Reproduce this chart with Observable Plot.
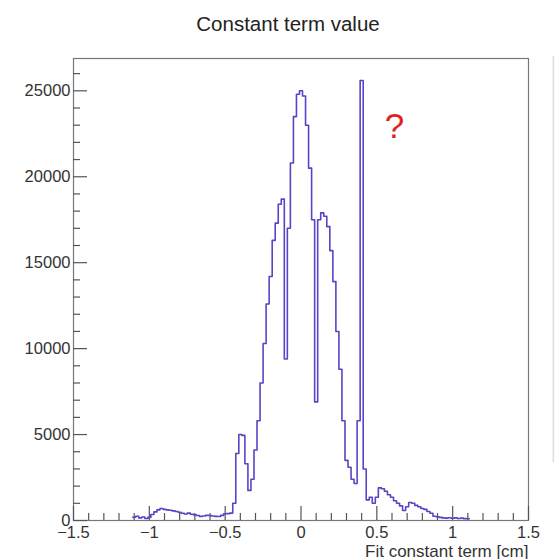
<!DOCTYPE html>
<html>
<head>
<meta charset="utf-8">
<script src="https://cdn.jsdelivr.net/npm/d3@7"></script>
<script src="https://cdn.jsdelivr.net/npm/@observablehq/plot@0.6"></script>
<style>
  body { margin: 0; background: #fff; }
  #chart svg { display: block; overflow: visible; }
</style>
</head>
<body>
<div id="chart"></div>
<script>
// Histogram of the fitted constant term, 0.02 cm bins starting at -1.11 cm
const title = "Constant term value";
const xLabel = "Fit constant term [cm]";
const binStart = -1.11;
const binWidth = 0.02;
const counts = [
  190, 250, 150, 200, 120, 180, 350, 500, 620, 700,
  650, 620, 600, 560, 520, 480, 420, 380, 430, 360,
  330, 290, 240, 260, 300, 290, 260, 240, 230, 300,
  390, 400, 430, 1000, 3900, 5000, 4950, 3300, 1750, 2400,
  4100, 5800, 8000, 10300, 12600, 14200, 16300, 17300, 18400, 18700,
  9400, 17000, 20800, 23500, 24800, 25000, 24700, 23000, 20500, 17500,
  6900, 17500, 17900, 17700, 17100, 15700, 13900, 11000, 8800, 5800,
  3500, 3100, 2400, 2150, 5800, 25600, 3000, 1200, 1350, 1000,
  1350, 1900, 1850, 1700, 1500, 1350, 1150, 1000, 850, 580,
  800, 1050, 1000, 880, 800, 700, 650, 520, 420, 250,
  220, 180, 150, 140, 160, 130, 150, 120, 140, 110,
  100
];

// Axis ticks (ROOT style: major with labels, minor without)
const xMajor = [-1.5, -1, -0.5, 0, 0.5, 1, 1.5];
const xMinor = [-1.4, -1.3, -1.2, -1.1, -0.9, -0.8, -0.7, -0.6, -0.4, -0.3, -0.2, -0.1,
                0.1, 0.2, 0.3, 0.4, 0.6, 0.7, 0.8, 0.9, 1.1, 1.2, 1.3, 1.4];
const yMajor = [0, 5000, 10000, 15000, 20000, 25000];
const yMinor = [1000, 2000, 3000, 4000, 6000, 7000, 8000, 9000, 11000, 12000, 13000, 14000,
                16000, 17000, 18000, 19000, 21000, 22000, 23000, 24000, 26000];

const xDomain = [-1.5, 1.5];
const yMax = 26880;
// left border of the neighbouring pad on the canvas
const nextPadEdge = 1.664;

// step outline: left edge of every bin, plus the closing right edge
const steps = counts.map((c, i) => ({x: binStart + i * binWidth, y: c}));
steps.push({x: binStart + counts.length * binWidth, y: counts[counts.length - 1]});

const axisColor = "#555";
const textColor = "#333";
const lineColor = "#5646c6";

const chart = Plot.plot({
  width: 560,
  height: 559,
  marginTop: 58,
  marginBottom: 39,
  marginLeft: 73,
  marginRight: 32,
  style: {fontFamily: "'Liberation Sans', Arial, sans-serif", color: textColor, background: "#fff"},
  x: {domain: xDomain},
  y: {domain: [0, yMax]},
  marks: [
    Plot.ruleX([nextPadEdge], {x: d => d, y1: 0, y2: yMax, insetTop: -58, insetBottom: 2, stroke: "#ddd", strokeWidth: 1.5}),
    Plot.frame({stroke: "#777", strokeWidth: 1.2}),
    // major / minor ticks drawn inward from the axes
    Plot.ruleX(xMajor, {x: d => d, y1: 0, y2: 0, insetBottom: 14, stroke: axisColor, strokeWidth: 1.2}),
    Plot.ruleX(xMinor, {x: d => d, y1: 0, y2: 0, insetBottom: 7, stroke: axisColor, strokeWidth: 1.2}),
    Plot.ruleY(yMajor, {y: d => d, x1: -1.5, x2: -1.5, insetLeft: 14, stroke: axisColor, strokeWidth: 1.2}),
    Plot.ruleY(yMinor, {y: d => d, x1: -1.5, x2: -1.5, insetLeft: 7, stroke: axisColor, strokeWidth: 1.2}),
    Plot.axisX(xMajor, {tickSize: 0, tickPadding: 6, fontSize: 16.5, label: null, tickFormat: d => String(d).replace("-", "\u2212")}),
    Plot.axisY(yMajor, {tickSize: 0, tickPadding: 3, fontSize: 16.5, label: null, tickFormat: d => String(d)}),
    Plot.line(steps, {x: "x", y: "y", curve: "step-after", stroke: lineColor, strokeWidth: 1.6}),
    Plot.text(["?"], {x: 0.616, y: 22900, text: d => d, fill: "#e0231f", fontSize: 35}),
    Plot.text([title], {frameAnchor: "top", dx: -13, dy: -28, lineAnchor: "bottom", text: d => d, fontSize: 20.5, fill: "#222"}),
    Plot.text([xLabel], {frameAnchor: "bottom-right", dy: 36, lineAnchor: "bottom", textAnchor: "end", text: d => d, fontSize: 17, fill: textColor})
  ]
});

document.getElementById("chart").appendChild(chart);
</script>
</body>
</html>
